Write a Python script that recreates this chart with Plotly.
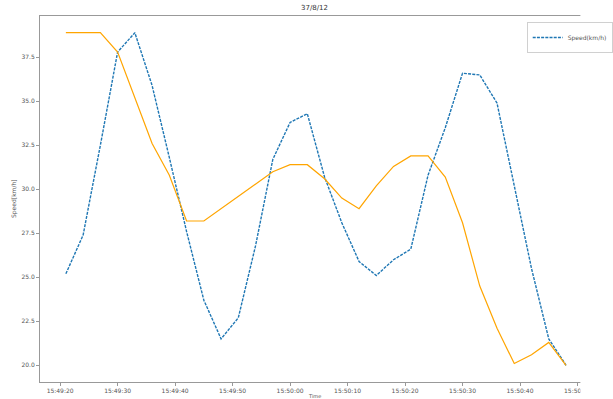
import plotly.graph_objects as go

# Sample timestamps (3 s apart)
times = [
    "2019-08-12 15:49:21", "2019-08-12 15:49:24", "2019-08-12 15:49:27",
    "2019-08-12 15:49:30", "2019-08-12 15:49:33", "2019-08-12 15:49:36",
    "2019-08-12 15:49:39", "2019-08-12 15:49:42", "2019-08-12 15:49:45",
    "2019-08-12 15:49:48", "2019-08-12 15:49:51", "2019-08-12 15:49:54",
    "2019-08-12 15:49:57", "2019-08-12 15:50:00", "2019-08-12 15:50:03",
    "2019-08-12 15:50:06", "2019-08-12 15:50:09", "2019-08-12 15:50:12",
    "2019-08-12 15:50:15", "2019-08-12 15:50:18", "2019-08-12 15:50:21",
    "2019-08-12 15:50:24", "2019-08-12 15:50:27", "2019-08-12 15:50:30",
    "2019-08-12 15:50:33", "2019-08-12 15:50:36", "2019-08-12 15:50:39",
    "2019-08-12 15:50:42", "2019-08-12 15:50:45", "2019-08-12 15:50:48",
]

speed = [25.2, 27.4, 32.5, 37.8, 38.9, 35.9, 31.8, 27.6, 23.7, 21.5,
         22.7, 26.8, 31.7, 33.8, 34.3, 30.7, 28.1, 25.9, 25.1, 26.0,
         26.6, 30.8, 33.5, 36.6, 36.5, 34.9, 30.2, 25.5, 21.5, 20.0]

reference_speed = [38.9, 38.9, 38.9, 37.8, 35.2, 32.6, 30.8, 28.2, 28.2, 28.9,
                   29.6, 30.3, 31.0, 31.4, 31.4, 30.6, 29.5, 28.9, 30.2, 31.3,
                   31.9, 31.9, 30.7, 28.1, 24.5, 22.1, 20.1, 20.6, 21.3, 20.0]

y_ticks = [20.0, 22.5, 25.0, 27.5, 30.0, 32.5, 35.0, 37.5]

title_text = "37/8/12"
legend_label = "Speed(km/h)"
x_label = "Time"
y_label = "Speed[km/h]"

W, H = 613, 399
L, R, T, B = 40, 0, 16, 17
PW, PH = W - L - R, H - T - B
font = "DejaVu Sans"
text_col = "#555555"
edge_col = "#999999"

fig = go.Figure()
fig.add_trace(go.Scatter(
    x=times, y=speed, mode="lines", name=legend_label,
    line=dict(color="#1f77b4", width=1.4, dash="3px,1.2px"),
))
fig.add_trace(go.Scatter(
    x=times, y=reference_speed, mode="lines", showlegend=False,
    line=dict(color="#FFA500", width=1.2),
))

fig.update_layout(
    width=W, height=H,
    margin=dict(l=L, r=R, t=T, b=B, pad=0),
    paper_bgcolor="white", plot_bgcolor="white",
    font=dict(family=font, size=6, color=text_col),
    showlegend=True,
    legend=dict(
        x=(548 - L) / PW, y=1 - (22 - T) / PH,
        xanchor="left", yanchor="top",
        bgcolor="rgba(255,255,255,0.9)", bordercolor="#d0d0d0", borderwidth=1,
        font=dict(size=6, color=text_col), itemwidth=30,
    ),
    xaxis=dict(
        type="date",
        range=["2019-08-12 15:49:16.5", "2019-08-12 15:50:52"],
        tick0="2019-08-12 15:49:20", dtick=10000, tickformat="%H:%M:%S",
        showgrid=False, zeroline=False,
        showline=True, linecolor=edge_col, linewidth=1, mirror=True,
        ticks="outside", ticklen=3, tickcolor=edge_col, tickwidth=1,
        tickfont=dict(size=6, color=text_col),
    ),
    yaxis=dict(
        range=[19.05, 39.85],
        tickvals=y_ticks, ticktext=[f"{v:.1f}" for v in y_ticks],
        showgrid=False, zeroline=False,
        showline=True, linecolor=edge_col, linewidth=1, mirror=True,
        ticks="outside", ticklen=3, tickcolor=edge_col, tickwidth=1,
        tickfont=dict(size=6, color=text_col),
    ),
    shapes=[
        # blank strip along the right edge of the figure
        dict(type="rect", xref="paper", yref="paper",
             x0=(604 - L) / PW, x1=1.05, y0=-0.1, y1=1.1,
             fillcolor="white", line=dict(width=0), layer="above"),
    ],
    annotations=[
        dict(text=title_text, xref="paper", yref="paper",
             x=(327 - L) / PW, y=1, yshift=2,
             xanchor="center", yanchor="bottom", showarrow=False,
             font=dict(size=7, color="#333333")),
        dict(text=x_label, xref="paper", yref="paper",
             x=(327 - L) / PW, y=0, yshift=-9,
             xanchor="center", yanchor="top", showarrow=False,
             font=dict(size=5, color=text_col)),
        dict(text=y_label, xref="paper", yref="paper",
             x=0, xshift=-26, y=0.5,
             xanchor="center", yanchor="middle", showarrow=False,
             textangle=-90, font=dict(size=6, color=text_col)),
    ],
)

fig.write_html("out.html")
